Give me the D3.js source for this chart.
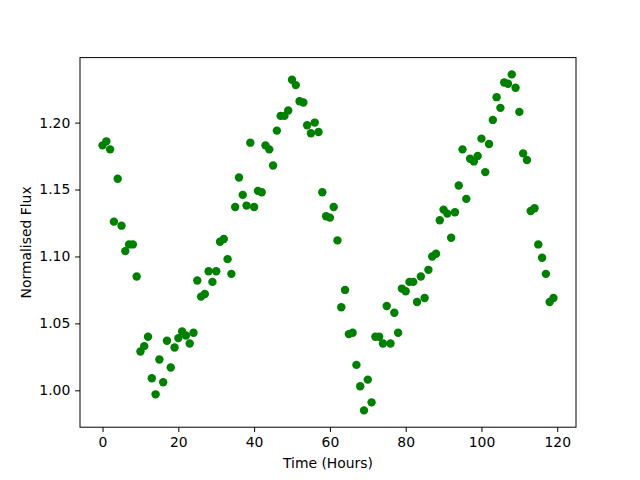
<!DOCTYPE html>
<html>
<head>
<meta charset="utf-8">
<script src="https://cdn.jsdelivr.net/npm/d3@7"></script>
<style>
  body { margin: 0; background: #fff; }
  svg { display: block; }
  text { font-family: "DejaVu Sans", sans-serif; }
</style>
</head>
<body>
<div id="chart"></div>
<script>
// time in hours
const hours = d3.range(0, 120);
// normalised flux, one reading per hour
const flux = [
  1.183, 1.186, 1.180, 1.126, 1.158, 1.123, 1.104, 1.109, 1.109, 1.085,
  1.029, 1.033, 1.040, 1.009, 0.997, 1.023, 1.006, 1.037, 1.017, 1.032,
  1.039, 1.044, 1.041, 1.035, 1.043, 1.082, 1.070, 1.072, 1.089, 1.081,
  1.089, 1.111, 1.113, 1.098, 1.087, 1.137, 1.159, 1.146, 1.138, 1.185,
  1.137, 1.149, 1.148, 1.183, 1.180, 1.168, 1.194, 1.205, 1.205, 1.209,
  1.232, 1.228, 1.216, 1.215, 1.198, 1.192, 1.200, 1.193, 1.148, 1.130,
  1.129, 1.137, 1.112, 1.062, 1.075, 1.042, 1.043, 1.019, 1.003, 0.985,
  1.008, 0.991, 1.040, 1.040, 1.035, 1.063, 1.035, 1.058, 1.043, 1.076,
  1.074, 1.081, 1.081, 1.066, 1.085, 1.069, 1.090, 1.100, 1.102, 1.127,
  1.135, 1.132, 1.114, 1.133, 1.153, 1.180, 1.143, 1.173, 1.171, 1.175,
  1.188, 1.163, 1.184, 1.202, 1.219, 1.211, 1.230, 1.229, 1.236, 1.226,
  1.208, 1.177, 1.172, 1.134, 1.136, 1.109, 1.099, 1.087, 1.066, 1.069
];
const xTicks = [0, 20, 40, 60, 80, 100, 120];
const yTicks = [1.00, 1.05, 1.10, 1.15, 1.20];

const width = 640, height = 480;
const margin = {left: 80, right: 64, top: 57.6, bottom: 52.8};
const data = hours.map((h, i) => ({t: h, f: flux[i]}));

// matplotlib style 5% padding
function pad(ext) {
  const s = ext[1] - ext[0];
  return [ext[0] - s * 0.05, ext[1] + s * 0.05];
}

const svg = d3.select("#chart").append("svg")
  .attr("width", width)
  .attr("height", height);

const x = d3.scaleLinear()
  .domain(pad(d3.extent(hours)))
  .range([margin.left, width - margin.right]);
const y = d3.scaleLinear()
  .domain(pad(d3.extent(flux)))
  .range([height - margin.bottom, margin.top]);

svg.append("g")
  .selectAll("circle")
  .data(data)
  .enter().append("circle")
  .attr("cx", d => x(d.t))
  .attr("cy", d => y(d.f))
  .attr("r", 4.2)
  .attr("fill", "#008000");

const xAxis = svg.append("g")
  .attr("transform", "translate(0," + (height - margin.bottom) + ")")
  .call(d3.axisBottom(x).tickValues(xTicks).tickSize(4.86).tickPadding(4.9).tickFormat(d3.format("d")));
const yAxis = svg.append("g")
  .attr("transform", "translate(" + margin.left + ",0)")
  .call(d3.axisLeft(y).tickValues(yTicks).tickSize(4.86).tickPadding(4.9).tickFormat(d3.format(".2f")));

[xAxis, yAxis].forEach(a => {
  a.select(".domain").remove();
  a.selectAll("text").attr("font-size", "13.9px").attr("font-family", "DejaVu Sans").attr("fill", "#000");
  a.selectAll("line").attr("stroke", "#000").attr("stroke-width", 1);
});

// frame
svg.append("rect")
  .attr("x", margin.left)
  .attr("y", margin.top)
  .attr("width", width - margin.left - margin.right)
  .attr("height", height - margin.top - margin.bottom)
  .attr("fill", "none")
  .attr("stroke", "#000")
  .attr("stroke-width", 1);

svg.append("text")
  .attr("x", margin.left + (width - margin.left - margin.right) / 2)
  .attr("y", 468)
  .attr("text-anchor", "middle")
  .attr("font-size", "13.9px")
  .text("Time (Hours)");

svg.append("text")
  .attr("transform", "translate(31," + (margin.top + (height - margin.top - margin.bottom) / 2) + ") rotate(-90)")
  .attr("text-anchor", "middle")
  .attr("font-size", "13.9px")
  .text("Normalised Flux");
</script>
</body>
</html>
